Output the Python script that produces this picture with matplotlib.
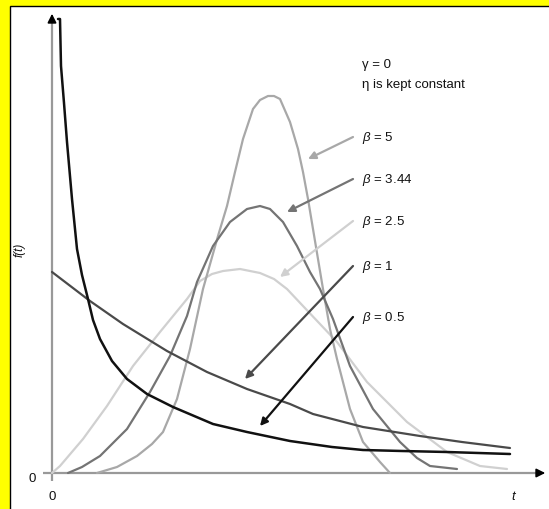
import matplotlib
matplotlib.use("Agg")
import matplotlib.pyplot as plt
from matplotlib.patches import Rectangle

plt.rcParams['font.family'] = ['Liberation Sans', 'DejaVu Sans']
plt.rcParams['mathtext.fontset'] = 'custom'
plt.rcParams['mathtext.it'] = 'Liberation Sans:italic'
plt.rcParams['mathtext.rm'] = 'Liberation Sans'

# ---- data (t, f(t)) in arbitrary units ----
t_b05 = [0.06, 0.08, 0.09, 0.12, 0.15, 0.20, 0.25, 0.30, 0.36, 0.41, 0.48, 0.60, 0.75, 0.95, 1.21, 1.61, 1.95, 2.38, 2.80, 3.11, 3.50, 3.95, 4.58]
f_b05 = [4.54, 4.54, 4.07, 3.70, 3.31, 2.74, 2.24, 1.98, 1.74, 1.53, 1.34, 1.12, 0.94, 0.79, 0.66, 0.49, 0.41, 0.32, 0.26, 0.23, 0.22, 0.21, 0.19]

t_b1 = [0.00, 0.38, 0.71, 1.15, 1.55, 1.95, 2.38, 2.61, 3.11, 3.68, 4.10, 4.58]
f_b1 = [2.01, 1.72, 1.49, 1.22, 1.01, 0.84, 0.69, 0.59, 0.46, 0.37, 0.31, 0.25]

t_b25 = [0.00, 0.08, 0.31, 0.55, 0.81, 1.08, 1.35, 1.48, 1.60, 1.71, 1.88, 2.08, 2.22, 2.35, 2.51, 2.85, 3.15, 3.55, 3.95, 4.28, 4.55]
f_b25 = [0.00, 0.07, 0.34, 0.67, 1.07, 1.41, 1.74, 1.92, 1.99, 2.02, 2.04, 2.00, 1.94, 1.84, 1.67, 1.31, 0.91, 0.51, 0.21, 0.07, 0.04]

t_b344 = [0.16, 0.30, 0.48, 0.75, 0.98, 1.18, 1.35, 1.45, 1.61, 1.78, 1.95, 2.08, 2.18, 2.31, 2.45, 2.58, 2.68, 2.81, 2.98, 3.21, 3.48, 3.65, 3.78, 4.05]
f_b344 = [0.00, 0.06, 0.17, 0.44, 0.81, 1.17, 1.57, 1.91, 2.27, 2.51, 2.64, 2.67, 2.64, 2.51, 2.27, 2.01, 1.84, 1.54, 1.07, 0.64, 0.31, 0.15, 0.07, 0.04]

t_b5 = [0.45, 0.65, 0.85, 1.00, 1.11, 1.25, 1.38, 1.51, 1.66, 1.75, 1.83, 1.91, 2.01, 2.08, 2.16, 2.22, 2.28, 2.38, 2.46, 2.51, 2.56, 2.61, 2.66, 2.71, 2.78, 2.85, 2.98, 3.11, 3.28, 3.38]
f_b5 = [0.00, 0.06, 0.17, 0.29, 0.41, 0.74, 1.24, 1.84, 2.37, 2.67, 3.01, 3.34, 3.64, 3.73, 3.77, 3.77, 3.74, 3.51, 3.24, 3.01, 2.74, 2.44, 2.14, 1.84, 1.44, 1.14, 0.64, 0.31, 0.11, 0.00]

labels = ["$\\it{\\beta}$ = 5", "$\\it{\\beta}$ = 3.44", "$\\it{\\beta}$ = 2.5", "$\\it{\\beta}$ = 1", "$\\it{\\beta}$ = 0.5"]
label_y = [3.36, 2.94, 2.52, 2.07, 1.56]
arrow_tail_t = [3.01, 3.01, 3.01, 3.01, 3.01]
arrow_head_t = [2.56, 2.35, 2.28, 1.93, 2.08]
arrow_head_f = [3.14, 2.61, 1.96, 0.94, 0.47]
colors = ['#a8a8a8', '#747474', '#d0d0d0', '#4a4a4a', '#111111']

fig = plt.figure(figsize=(5.49, 5.10), dpi=100)
fig.patch.set_facecolor('#ffff00')

ax = fig.add_axes([0, 0, 1, 1])
ax.set_xlim(-0.52, 4.97)
ax.set_ylim(-0.36, 4.74)
ax.axis('off')
ax.patch.set_alpha(0)

ax.add_patch(Rectangle((10 / 549, -0.1), 1.1, 1 - 7 / 510 + 0.1,
                       transform=fig.transFigure, facecolor='white',
                       edgecolor='black', linewidth=1.0, zorder=-5, clip_on=False))

# axes lines
ax.plot([0, 0], [-0.08, 4.55], color='#999999', lw=1.6, solid_capstyle='butt')
ax.plot([-0.09, 4.88], [0, 0], color='#999999', lw=1.6, solid_capstyle='butt')
ax.annotate('', xy=(0, 4.62), xytext=(0, 4.50),
            arrowprops=dict(arrowstyle='-|>', color='black', lw=1.2, mutation_scale=13))
ax.annotate('', xy=(4.96, 0), xytext=(4.84, 0),
            arrowprops=dict(arrowstyle='-|>', color='black', lw=1.2, mutation_scale=13))

# curves
kw = dict(solid_joinstyle='round', solid_capstyle='round')
ax.plot(t_b25, f_b25, color=colors[2], lw=1.6, **kw)
ax.plot(t_b5, f_b5, color=colors[0], lw=1.6, **kw)
ax.plot(t_b344, f_b344, color=colors[1], lw=1.6, **kw)
ax.plot(t_b1, f_b1, color=colors[3], lw=1.6, **kw)
ax.plot(t_b05, f_b05, color=colors[4], lw=1.8, **kw)

# arrows and labels
for lab, ly, tt, ht, hf, c in zip(labels, label_y, arrow_tail_t, arrow_head_t, arrow_head_f, colors):
    ax.annotate('', xy=(ht, hf), xytext=(tt, ly),
                arrowprops=dict(arrowstyle='-|>', color=c, lw=1.6, mutation_scale=11,
                                shrinkA=0, shrinkB=0))
    ax.text(3.10, ly, lab, fontsize=9.5, ha='left', va='center', color='#111111')

ax.text(3.10, 4.09, "\u03b3 = 0", fontsize=9.5, ha='left', va='center', color='#111111')
ax.text(3.10, 3.89, "\u03b7 is kept constant", fontsize=9.5, ha='left', va='center', color='#111111')

ax.text(-0.20, -0.05, "0", fontsize=9.5, ha='center', va='center', color='#111111')
ax.text(0.0, -0.23, "0", fontsize=9.5, ha='center', va='center', color='#111111')
ax.text(4.61, -0.23, "t", fontsize=9.5, ha='center', va='center', style='italic', color='#111111')
ax.text(-0.32, 2.24, "f(t)", fontsize=8.5, ha='center', va='center', rotation=90,
        style='italic', color='#111111')

fig.savefig('out.png', dpi=100, facecolor=fig.get_facecolor())
